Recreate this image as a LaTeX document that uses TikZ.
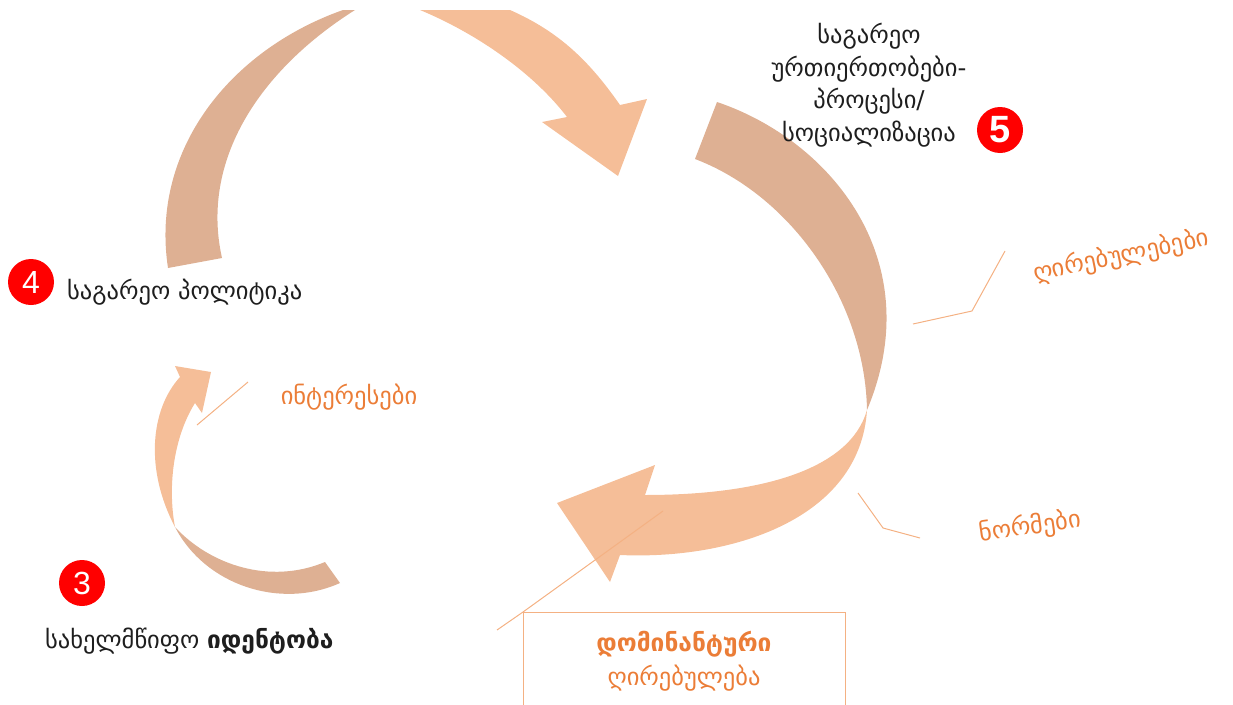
\documentclass[tikz,border=0pt]{standalone}
\usepackage{fontspec}
\setmainfont{DejaVu Sans}
\newfontfamily\digitfont{Liberation Sans}
\definecolor{arrtan}{RGB}{222,176,147}
\definecolor{arrpeach}{RGB}{245,190,152}
\definecolor{txtorange}{RGB}{235,125,55}
\definecolor{lineorange}{RGB}{244,177,131}
\definecolor{txtdark}{RGB}{30,30,30}
\definecolor{badgered}{RGB}{255,0,0}
\begin{document}
\begin{tikzpicture}[x=1pt,y=-1pt,
  tanpart/.style={fill=arrtan},
  peachpart/.style={fill=arrpeach},
  badge/.style={circle,fill=badgered,minimum size=46pt,inner sep=0pt,text=white,font=\digitfont\fontsize{32}{32}\selectfont},
  darklbl/.style={text=txtdark,font=\fontsize{24.5}{32.5}\selectfont,inner sep=0pt},
  orangelbl/.style={text=txtorange,font=\fontsize{24.5}{34}\selectfont,inner sep=0pt},
  leader/.style={draw=lineorange,line width=1pt}]
\useasboundingbox (0,0) rectangle (1233,704);

% top arrow
\fill[tanpart] (168,268) .. controls (150,150) and (230,50) .. (343,10)
  -- (355,10) .. controls (260,70) and (200,160) .. (222,258) -- cycle;
\fill[peachpart] (420,10) .. controls (480,35) and (535,75) .. (567,117)
  -- (542,122) -- (618,176) -- (647,99) -- (620,105)
  .. controls (590,62) and (560,32) .. (510,10) -- cycle;

% big right arrow
\fill[tanpart] (717,102) .. controls (830,140) and (930,260) .. (867,410)
  .. controls (865,300) and (790,195) .. (695,159) -- cycle;
\fill[peachpart] (867,410) .. controls (860,520) and (730,560) .. (620,555)
  -- (610,582) -- (557,503) -- (655,465) -- (645,495)
  .. controls (760,495) and (850,470) .. (867,410) -- cycle;

% small left arrow
\fill[tanpart] (175,527) .. controls (205,585) and (280,610) .. (340,583)
  -- (325,562) .. controls (270,585) and (210,565) .. (175,527) -- cycle;
\fill[peachpart] (175,527) .. controls (145,470) and (150,410) .. (180,377)
  -- (175,366) -- (211,372) -- (202,413) -- (195,403)
  .. controls (172,440) and (168,490) .. (175,527) -- cycle;

% badges and labels
\node[badge] (n4) at (31,282) {4};
\node[darklbl,anchor=base west] (t4) at (67,299) {საგარეო პოლიტიკა};
\node[badge] (n3) at (82,583) {3};
\node[darklbl,anchor=base west] (t3) at (45,648) {სახელმწიფო \textbf{იდენტობა}};
\node[badge,font=\digitfont\bfseries\fontsize{38}{38}\selectfont] (n5) at (1000,130) {5};
\node[darklbl,align=center] (t5) at (869,85) {საგარეო\\ურთიერთობები-\\პროცესი/\\სოციალიზაცია};

\node[orangelbl] (int) at (349,397) {ინტერესები};
\node[orangelbl,rotate=11.5] (val) at (1121,256) {ღირებულებები};
\node[orangelbl,rotate=8] (norm) at (1030,527) {ნორმები};

% box
\node[draw=lineorange,line width=1pt,minimum width=322pt,minimum height=130pt,anchor=north west,inner sep=0pt] (box) at (523,612) {};
\node[orangelbl,align=center] (domtxt) at (684,661) {\textbf{დომინანტური}\\ღირებულება};

% leader lines
\coordinate (v1) at (913,324); \coordinate (v2) at (972,311); \coordinate (v3) at (1005,251);
\draw[leader] (v1) -- (v2) -- (v3);
\coordinate (m1) at (858,493); \coordinate (m2) at (883,528); \coordinate (m3) at (920,538);
\draw[leader] (m1) -- (m2) -- (m3);
\coordinate (i1) at (248,382); \coordinate (i2) at (197,425);
\draw[leader] (i1) -- (i2);
\coordinate (d1) at (663,511); \coordinate (d2) at (497,630);
\draw[leader] (d1) -- (box.north west) -- (d2);
\end{tikzpicture}
\end{document}
